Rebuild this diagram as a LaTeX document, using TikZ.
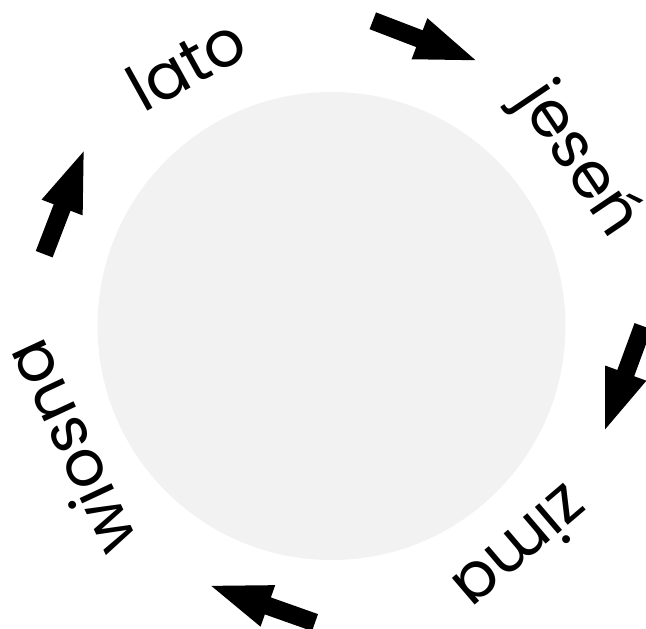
\documentclass[tikz,border=0pt]{standalone}
\usepackage{fontspec}
\setmainfont{Poppins}
\usetikzlibrary{calc}
\definecolor{discgray}{HTML}{F2F2F2}
\begin{document}
\begin{tikzpicture}[x=1pt,y=1pt,
  season/.style={font=\fontsize{64}{66}\selectfont, inner sep=0pt, text=black},
  blockarrow/.pic={\fill[black] (0,-9) -- (50,-9) -- (50,-22) -- (110,0) -- (50,22) -- (50,9) -- (0,9) -- cycle;}]
\useasboundingbox (0,0) rectangle (646,629);
\coordinate (c) at (331.5,303);
\fill[discgray] (c) circle (234);
\node[season, rotate=29]     (lato)   at ($(c)+(119:300)$) {lato};
\node[season, rotate=-56]    (jesien) at ($(c)+(34:296)$) {jeseń};
\node[season, rotate=-139.5] (zima)   at ($(c)+(-49.5:294)$) {zima};
\node[season, rotate=115]    (wiosna) at ($(c)+(-155:290)$) {wiosna};
\pic[rotate=-21]   at (372.8,608.2) {blockarrow};
\pic[rotate=-110.2] at (643,302.8) {blockarrow};
\pic[rotate=160.5] at (315,6.4) {blockarrow};
\pic[rotate=69]    at (44.2,374.8) {blockarrow};
\end{tikzpicture}
\end{document}
